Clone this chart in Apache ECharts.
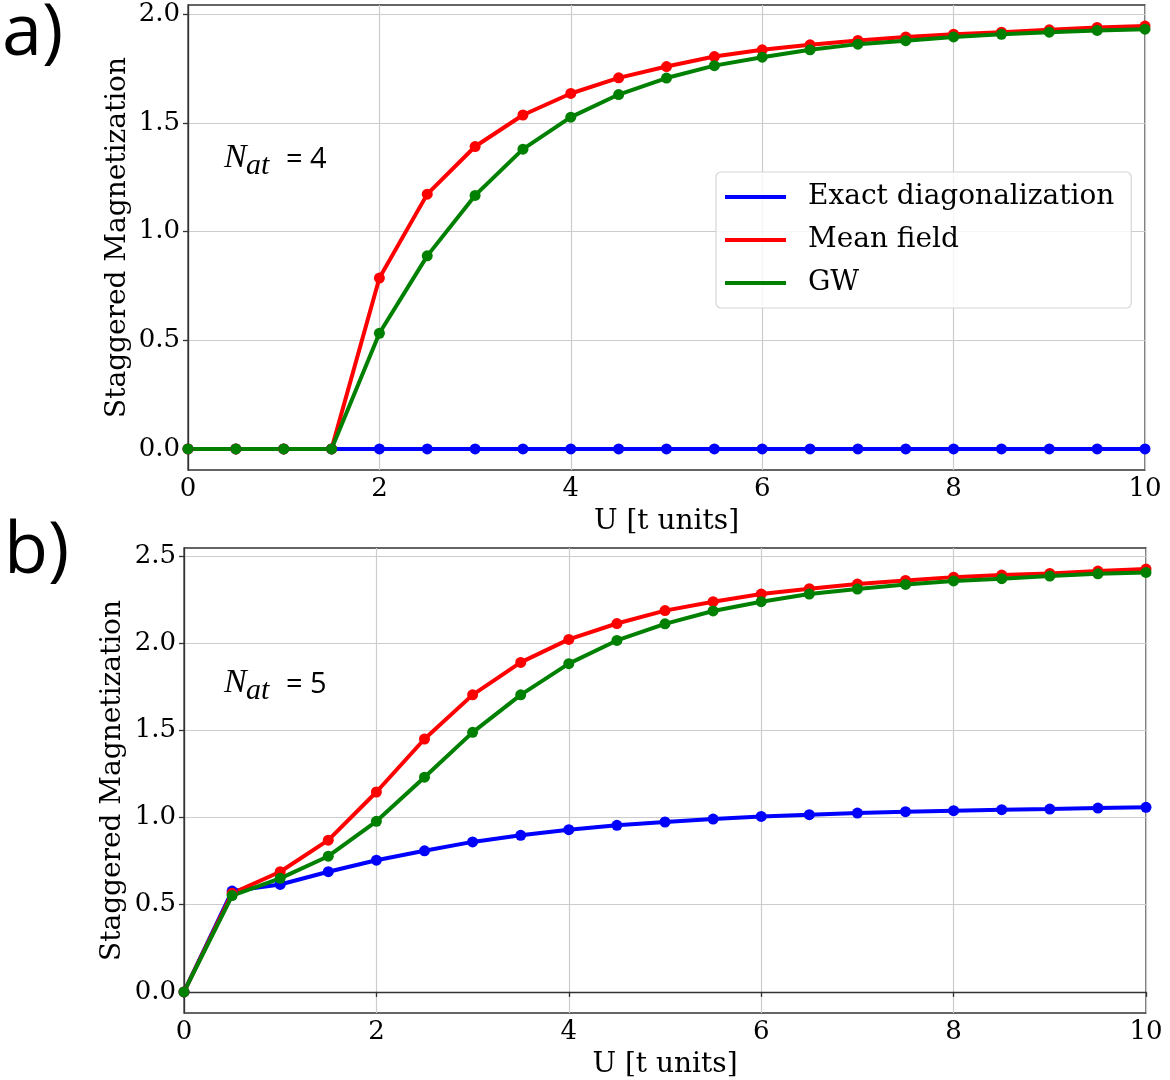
<!DOCTYPE html>
<html>
<head>
<meta charset="utf-8">
<script src="https://cdn.jsdelivr.net/npm/echarts@6/dist/echarts.min.js"></script>
<style>
html,body{margin:0;padding:0;background:#fff;}
#chart{width:1170px;height:1080px;}
</style>
</head>
<body>
<div id="chart"></div>
<script>
// U values [t units]
const uValues = [0,0.5,1,1.5,2,2.5,3,3.5,4,4.5,5,5.5,6,6.5,7,7.5,8,8.5,9,9.5,10];

// Panel a) N_at = 4
const exactA = [0,0,0,0,0,0,0,0,0,0,0,0,0,0,0,0,0,0,0,0,0];
const meanFieldA = [0,0,0,0,0.786,1.172,1.391,1.536,1.635,1.707,1.759,1.805,1.836,1.859,1.879,1.895,1.908,1.917,1.928,1.939,1.945];
const gwA = [0,0,0,0,0.532,0.888,1.166,1.379,1.526,1.630,1.706,1.763,1.802,1.836,1.862,1.878,1.895,1.907,1.917,1.925,1.931];

// Panel b) N_at = 5
const exactB = [0,0.578,0.616,0.689,0.755,0.809,0.860,0.898,0.930,0.955,0.974,0.991,1.006,1.016,1.025,1.033,1.039,1.045,1.048,1.054,1.058];
const meanFieldB = [0,0.565,0.689,0.870,1.146,1.450,1.703,1.889,2.021,2.112,2.186,2.237,2.281,2.312,2.338,2.359,2.378,2.390,2.399,2.413,2.424];
const gwB = [0,0.552,0.651,0.778,0.978,1.231,1.488,1.703,1.882,2.015,2.110,2.184,2.237,2.281,2.310,2.336,2.356,2.369,2.384,2.397,2.405];

const xTicks = [0,2,4,6,8,10];
const yTicksA = [0,0.5,1,1.5,2];
const yTicksB = [0,0.5,1,1.5,2,2.5];

const seriesNames = ['Exact diagonalization','Mean field','GW'];
const seriesColors = ['#0000ff','#ff0000','#008000'];

const pair = arr => uValues.map((u,i)=>[u, arr[i]]);

const serifFont = 'DejaVu Serif';
const tickFont = 26;
const titleFont = 28;

function xAxisFor(gi){
  return {
    type:'value', gridIndex:gi, min:0, max:10, interval:2,
    name:'U [t units]', nameLocation:'middle', nameGap:38,
    nameTextStyle:{fontFamily:serifFont, fontSize:titleFont, color:'#000'},
    axisLine:{show:true, lineStyle:{color:'#333', width:1.3}},
    axisTick:{show:true, inside:false, length:5, customValues:xTicks, lineStyle:{color:'#333', width:1.3}},
    axisLabel:{fontFamily:serifFont, fontSize:tickFont, color:'#000', margin:6,
      customValues:xTicks, formatter: v => String(v)},
    splitLine:{show:true, lineStyle:{color:'#cccccc', width:1.2}}
  };
}
function yAxisFor(gi, mn, mx, ticks, gap){
  return {
    type:'value', gridIndex:gi, min:mn, max:mx,
    name:'Staggered Magnetization', nameLocation:'middle', nameGap:gap, nameRotate:90,
    nameMoveOverlap:false,
    nameTextStyle:{fontFamily:serifFont, fontSize:titleFont, color:'#000'},
    axisLine:{show:true, lineStyle:{color:'#333', width:1.3}},
    axisTick:{show:true, inside:false, length:5, customValues:ticks, lineStyle:{color:'#333', width:1.3}},
    axisLabel:{fontFamily:serifFont, fontSize:tickFont, color:'#000', margin:8,
      customValues:ticks, formatter: v => Number(v).toFixed(1)},
    splitLine:{show:true, lineStyle:{color:'#cccccc', width:1.2}}
  };
}
function mkSeries(name, color, data, gi){
  return {
    type:'line', name:name, xAxisIndex:gi, yAxisIndex:gi,
    data:pair(data), symbol:'circle', symbolSize:11, showSymbol:true,
    lineStyle:{color:color, width:4}, itemStyle:{color:color},
    emphasis:{disabled:true}, animation:false, z:2
  };
}

function natLabel(y0, n){
  return [
    {type:'text', left:224, top:y0, style:{text:'N', font:'italic 34px "Liberation Serif"', fill:'#000'}},
    {type:'text', left:246, top:y0+10, style:{text:'at', font:'italic 30px "Liberation Serif"', fill:'#000'}},
    {type:'text', left:286, top:y0+4, style:{text:'= '+n, font:'29px "Open Sans"', fill:'#000'}}
  ];
}

const chart = echarts.init(document.getElementById('chart'), null, {renderer:'canvas'});
chart.setOption({
  animation:false,
  backgroundColor:'#fff',
  grid:[
    {left:188, right:25, top:5, height:465, show:true, borderColor:'#333', borderWidth:1.3, containLabel:false},
    {left:184, right:24, top:548, height:467, show:true, borderColor:'#333', borderWidth:1.3, containLabel:false}
  ],
  xAxis:[xAxisFor(0), xAxisFor(1)],
  yAxis:[yAxisFor(0,-0.097,2.042,yTicksA,56), yAxisFor(1,-0.121,2.545,yTicksB,57)],
  legend:{
    show:true, data:seriesNames, orient:'vertical', left:716, top:172,
    icon:'rect', itemWidth:61, itemHeight:4, itemGap:15,
    padding:[11,17,11,9], borderColor:'#d6d6d6', borderWidth:1.2, borderRadius:5,
    backgroundColor:'rgba(255,255,255,0.8)',
    textStyle:{fontFamily:serifFont, fontSize:28, color:'#000', padding:[0,0,0,17]},
    selectedMode:false
  },
  series:[
    mkSeries(seriesNames[0], seriesColors[0], exactA, 0),
    mkSeries(seriesNames[1], seriesColors[1], meanFieldA, 0),
    mkSeries(seriesNames[2], seriesColors[2], gwA, 0),
    mkSeries(seriesNames[0], seriesColors[0], exactB, 1),
    mkSeries(seriesNames[1], seriesColors[1], meanFieldB, 1),
    mkSeries(seriesNames[2], seriesColors[2], gwB, 1)
  ],
  graphic:[
    {type:'text', left:2, top:-2, style:{text:'a)', font:'72px "Open Sans"', fill:'#000'}},
    {type:'text', left:4, top:516, style:{text:'b)', font:'72px "Open Sans"', fill:'#000'}}
  ].concat(natLabel(141,4), natLabel(666,5))
});
</script>
</body>
</html>
